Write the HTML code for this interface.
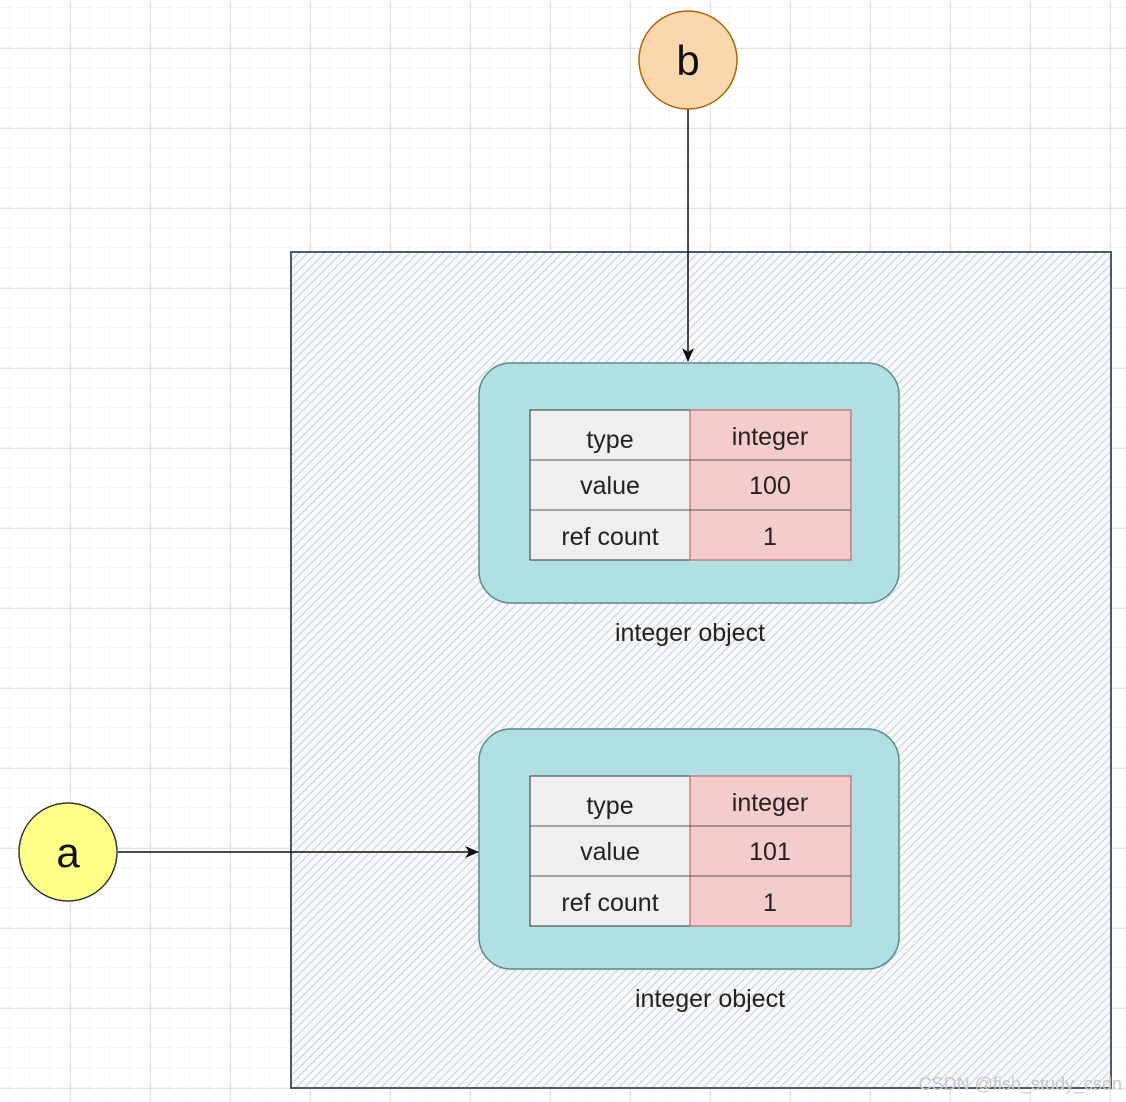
<!DOCTYPE html>
<html><head><style>html,body{margin:0;padding:0;background:#fff;}svg{display:block}</style></head><body>
<svg width="1126" height="1102" xmlns="http://www.w3.org/2000/svg" font-family="Liberation Sans, sans-serif">
<defs>
<pattern id="minor" width="20" height="20" patternUnits="userSpaceOnUse" x="10" y="8"><path d="M20 0V20M0 20H20" fill="none" stroke="#f2f2f2" stroke-width="1"/></pattern>
<pattern id="major" width="80" height="80" patternUnits="userSpaceOnUse" x="70" y="48"><path d="M0.5 0V80M0 0.5H80" fill="none" stroke="#e2e2e2" stroke-width="1.2"/></pattern>
<pattern id="hatch" width="6" height="6" patternUnits="userSpaceOnUse" patternTransform="rotate(45)"><line x1="0" y1="0" x2="0" y2="6" stroke="#bcc3c9" stroke-width="1.6"/></pattern>
<marker id="arr" markerWidth="14" markerHeight="14" refX="13" refY="7" orient="auto" markerUnits="userSpaceOnUse"><path d="M0,1 L14,7 L0,13 L4,7z" fill="#111"/></marker>
</defs>
<rect width="1126" height="1102" fill="url(#minor)"/>
<rect width="1126" height="1102" fill="url(#major)"/>
<rect x="291" y="252" width="820" height="836" fill="#f7f9fa"/>
<rect x="291" y="252" width="820" height="836" fill="url(#hatch)" stroke="#4a5a66" stroke-width="2"/>
<g>
<rect x="479" y="363" width="420" height="240" rx="32" fill="#b0e0e3" stroke="#5a8a90" stroke-width="1.5"/>
<rect x="530" y="410" width="160" height="150" fill="#efefef" stroke="#333"/>
<rect x="690" y="410" width="161" height="150" fill="#f4cccc" stroke="#b85450"/>
<line x1="530" y1="460" x2="851" y2="460" stroke="#555"/><line x1="530" y1="510" x2="851" y2="510" stroke="#555"/>
<g font-size="25" fill="#222" text-anchor="middle">
<text x="610" y="448">type</text><text x="610" y="494">value</text><text x="610" y="545">ref count</text>
<text x="770" y="445">integer</text><text x="770" y="494">100</text><text x="770" y="545">1</text>
<text x="690" y="641">integer object</text>
</g>
</g>
<g>
<rect x="479" y="729" width="420" height="240" rx="32" fill="#b0e0e3" stroke="#5a8a90" stroke-width="1.5"/>
<rect x="530" y="776" width="160" height="150" fill="#efefef" stroke="#333"/>
<rect x="690" y="776" width="161" height="150" fill="#f4cccc" stroke="#b85450"/>
<line x1="530" y1="826" x2="851" y2="826" stroke="#555"/><line x1="530" y1="876" x2="851" y2="876" stroke="#555"/>
<g font-size="25" fill="#222" text-anchor="middle">
<text x="610" y="814">type</text><text x="610" y="860">value</text><text x="610" y="911">ref count</text>
<text x="770" y="811">integer</text><text x="770" y="860">101</text><text x="770" y="911">1</text>
<text x="710" y="1007">integer object</text>
</g>
</g>
<line x1="688" y1="109" x2="688" y2="361" stroke="#111" stroke-width="1.5" marker-end="url(#arr)"/>
<line x1="118" y1="852" x2="478" y2="852" stroke="#111" stroke-width="1.5" marker-end="url(#arr)"/>
<circle cx="688" cy="60" r="49" fill="#fad7ac" stroke="#b46504" stroke-width="1.5"/>
<text x="688" y="75" font-size="42" text-anchor="middle" fill="#111">b</text>
<circle cx="68" cy="852" r="49" fill="#ffff88" stroke="#36393d" stroke-width="1.5"/>
<text x="68" y="867" font-size="42" text-anchor="middle" fill="#111">a</text>
<text x="1122" y="1090" font-size="18" text-anchor="end" fill="#c8c8c8">CSDN @fish_study_csdn</text>
</svg>
</body></html>
